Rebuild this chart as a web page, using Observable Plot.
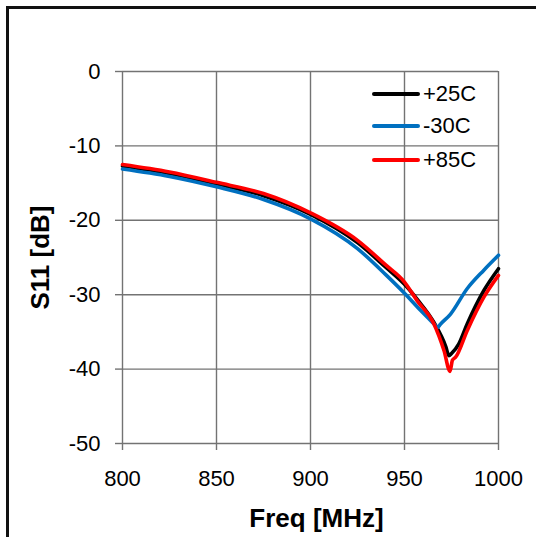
<!DOCTYPE html>
<html>
<head>
<meta charset="utf-8">
<script src="https://cdn.jsdelivr.net/npm/d3@7"></script>
<script src="https://cdn.jsdelivr.net/npm/@observablehq/plot@0.6"></script>
<style>
  html, body { margin: 0; padding: 0; background: #fff; overflow: hidden; }
  #wrap { position: relative; width: 536px; height: 537px; overflow: hidden; font-family: "Liberation Sans", Arial, sans-serif; }
  #frame { position: absolute; left: 6px; top: 6px; width: 600px; height: 600px; border: 3px solid #111; box-sizing: border-box; }
  #chart { position: absolute; left: 0; top: 0; }
  #legend { position: absolute; left: 0; top: 0; }
  .row { position: absolute; height: 24px; }
  .row .sw { position: absolute; left: 0; top: 10px; width: 48px; height: 4px; border-radius: 2px; }
  .row .lb { position: absolute; left: 51px; top: -2px; font-size: 22px; line-height: 28px; color: #000; white-space: nowrap; }
</style>
</head>
<body>
<div id="wrap">
  <div id="frame"></div>
  <div id="chart"></div>
  <div id="legend"></div>
</div>
<script>
// ---- data ----
const seriesNames = ["+25C", "-30C", "+85C"];
const seriesColors = ["#000000", "#0070C0", "#FF0000"];

const freq25 = [800, 825, 850, 875, 900, 925, 940, 950, 957, 965.6, 972, 973.6, 975, 978.9, 983.4, 992.3, 1000];
const s11_25 = [-12.7, -13.7, -15.1, -16.7, -19.2, -23.0, -26.3, -28.6, -30.7, -33.7, -37.0, -38.2, -37.9, -36.6, -33.9, -29.4, -26.5];

const freqM30 = [800, 825, 850, 875, 900, 925, 940, 950, 958.5, 965.6, 967.6, 969, 974.5, 983.3, 992.2, 1000];
const s11_M30 = [-13.1, -14.1, -15.5, -17.2, -19.8, -23.8, -27.3, -29.8, -32.1, -33.9, -34.4, -34.0, -32.6, -29.2, -26.7, -24.7];

const freq85 = [800, 825, 850, 875, 900, 925, 940, 950, 956.7, 965.6, 971, 974.2, 975.5, 977.2, 983.4, 992.3, 1000];
const s11_85 = [-12.5, -13.5, -14.9, -16.4, -19.0, -22.7, -26.0, -28.3, -30.8, -33.9, -37.5, -40.3, -38.8, -38.4, -34.8, -30.3, -27.4];

const xTicks = [800, 850, 900, 950, 1000];
const yTicks = [0, -10, -20, -30, -40, -50];
const xTitle = "Freq [MHz]";
const yTitle = "S11 [dB]";

// ---- build table ----
const rows = [];
[[freq25, s11_25], [freqM30, s11_M30], [freq85, s11_85]].forEach(([fs, vs], i) => {
  fs.forEach((f, j) => rows.push({series: seriesNames[i], freq: f, s11: vs[j]}));
});

const grid = "#737373";
const fmt = d => String(d);
const chart = Plot.plot({
  width: 536,
  height: 537,
  marginLeft: 122,
  marginRight: 38,
  marginTop: 71,
  marginBottom: 94,
  style: {fontFamily: "'Liberation Sans', Arial, sans-serif", fontSize: "22px", color: "#000", background: "transparent", overflow: "visible"},
  x: {domain: [800, 1000]},
  y: {domain: [-50, 0]},
  color: {domain: seriesNames, range: seriesColors},
  marks: [
    Plot.gridX(xTicks, {stroke: grid, strokeOpacity: 1, strokeWidth: 1.4}),
    Plot.gridY(yTicks, {stroke: grid, strokeOpacity: 1, strokeWidth: 1.4}),
    Plot.axisX({ticks: xTicks, tickFormat: fmt, tickSize: 7, tickPadding: 20, stroke: grid, color: "#000", label: null, fontSize: 22, strokeWidth: 1.4}),
    Plot.axisY({ticks: yTicks, tickFormat: fmt, tickSize: 7, tickPadding: 15, stroke: grid, color: "#000", label: null, fontSize: 22, strokeWidth: 1.4}),
    Plot.line(rows, {x: "freq", y: "s11", z: "series", stroke: "series", strokeWidth: 3.6, curve: "monotone-x", strokeLinejoin: "round"}),
    Plot.text([xTitle], {frameAnchor: "bottom", dy: 83, dx: 6, lineAnchor: "bottom", textAnchor: "middle", fontSize: 26, fontWeight: "bold", fill: "#000"}),
    Plot.text([yTitle], {frameAnchor: "left", dx: -82, rotate: -90, textAnchor: "middle", fontSize: 26, fontWeight: "bold", fill: "#000"})
  ]
});
document.getElementById("chart").appendChild(chart);

// ---- legend (HTML overlay, top-right inside plot) ----
const legend = document.getElementById("legend");
const legendTop = [82, 114, 148];
seriesNames.forEach((name, i) => {
  const r = document.createElement("div");
  r.className = "row";
  r.style.left = "372px";
  r.style.top = legendTop[i] + "px";
  const sw = document.createElement("div");
  sw.className = "sw";
  sw.style.background = seriesColors[i];
  const lb = document.createElement("div");
  lb.className = "lb";
  lb.textContent = name;
  r.appendChild(sw); r.appendChild(lb);
  legend.appendChild(r);
});
</script>
</body>
</html>
